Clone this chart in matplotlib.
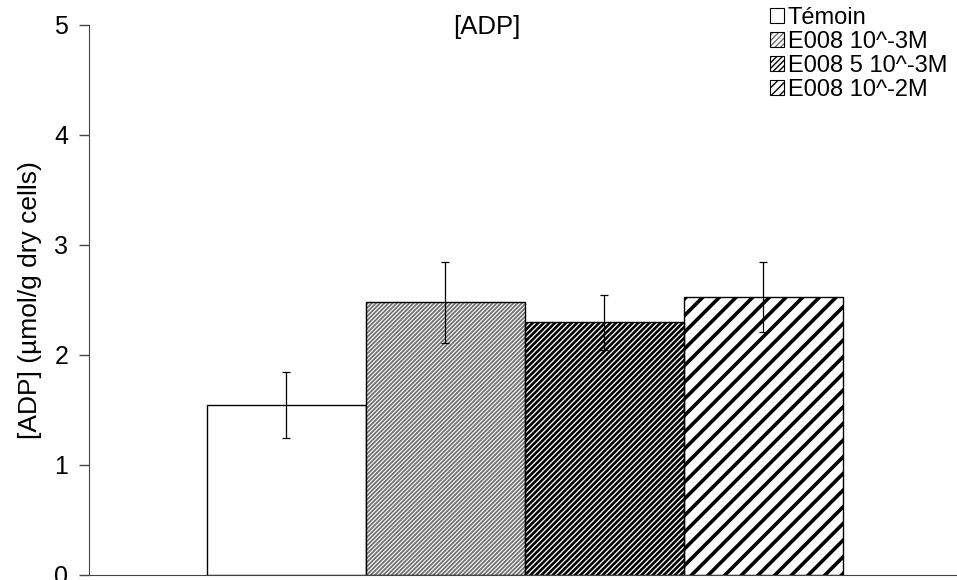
import matplotlib.pyplot as plt
from matplotlib.patches import Patch
import numpy as np

plt.rcParams['font.family'] = ['Liberation Sans', 'DejaVu Sans']

# données
labels = ['Témoin', 'E008 10^-3M', 'E008 5 10^-3M', 'E008 10^-2M']
values = [1.55, 2.48, 2.30, 2.53]
errors = [0.30, 0.37, 0.25, 0.32]

hatches = [None, '////////', '//////', '//']
leg_hatches = [None, '//////', '//////', '////']
hatch_colors = ['black', '#707070', 'black', 'black']
hatch_lws = [1.0, 1.3, 1.9, 2.6]

fig = plt.figure(figsize=(9.57, 5.80), dpi=100)
ax = fig.add_axes([89 / 957, 5 / 580, 1 - 89 / 957, 550 / 580])

x = np.arange(len(values))
handles = []
for i in range(len(values)):
    if hatches[i] is None:
        ax.bar(x[i], values[i], width=1.0, color='white', edgecolor='black', linewidth=1.0, zorder=2)
        handles.append(Patch(facecolor='white', edgecolor='black', linewidth=0.8))
    else:
        b = ax.bar(x[i], values[i], width=1.0, color='white', edgecolor=hatch_colors[i],
                   hatch=hatches[i], linewidth=0, zorder=2)
        b[0].set_hatch_linewidth(hatch_lws[i])
        ax.bar(x[i], values[i], width=1.0, color='none', edgecolor='black', linewidth=1.0, zorder=3)
        # carré de légende : hachures + contour noir
        h = Patch(facecolor='white', edgecolor=hatch_colors[i], hatch=leg_hatches[i], linewidth=0)
        h.set_hatch_linewidth(hatch_lws[i] * 0.8)
        o = Patch(facecolor='none', edgecolor='black', linewidth=0.8)
        handles.append((h, o))

ax.errorbar(x, values, yerr=errors, fmt='none', ecolor='black', elinewidth=0.9,
            capsize=3, capthick=0.9, zorder=4)

ax.set_xlim(-1.242, 4.217)
ax.set_ylim(0, 5)
ax.set_yticks([0, 1, 2, 3, 4, 5])
ax.set_xticks([])
ax.tick_params(axis='y', labelsize=18, length=7, width=1, color='#444444', pad=8)
ax.spines['top'].set_visible(False)
ax.spines['right'].set_visible(False)
ax.spines['left'].set_color('#444444')
ax.spines['bottom'].set_color('#444444')
ax.set_ylabel('[ADP] (µmol/g dry cells)', fontsize=19, labelpad=9)

fig.text(487 / 957, 1 - 27 / 580, '[ADP]', fontsize=18.5, ha='center', va='center')

leg = ax.legend(handles, labels, loc='upper left', bbox_to_anchor=(770 / 957, 1 - 7 / 580),
                bbox_transform=fig.transFigure, frameon=False, fontsize=17,
                handlelength=0.6, handleheight=0.6, handletextpad=0.15, labelspacing=0.08,
                borderaxespad=0, borderpad=0)

fig.savefig('out.png', dpi=100)
